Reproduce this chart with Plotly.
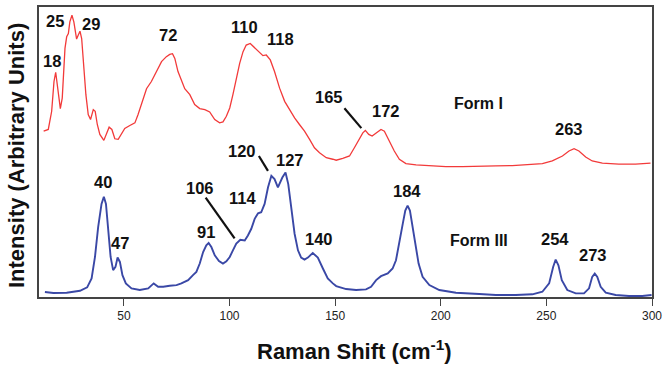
import plotly.graph_objects as go

# ---- Form I (red) spectrum: Raman shift (cm-1) and intensity (arbitrary units)
form1_shift = [12.0, 14.2, 15.8, 16.9, 17.7, 18.9, 19.9, 20.8, 22.1, 22.9, 23.7, 24.4, 25.4, 26.3,
               27.6, 28.4, 29.2, 30.0, 31.1, 32.0, 33.1, 34.2, 35.5, 36.4, 37.4, 38.6, 40.5, 41.8,
               43.0, 44.3, 45.7, 47.3, 48.9, 50.4, 52.8, 55.2, 56.7, 59.1, 60.7, 63.0, 65.4, 67.8,
               70.1, 71.7, 73.0, 74.1, 75.6, 77.2, 78.8, 81.2, 83.5, 85.9, 88.3, 90.6, 93.0, 95.3,
               96.9, 98.5, 100.1, 101.6, 103.2, 104.8, 106.4, 107.9, 109.8, 111.4, 113.5, 115.8,
               117.4, 119.3, 121.3, 123.7, 126.1, 128.4, 130.8, 133.1, 135.5, 137.9, 140.2, 142.6,
               145.8, 148.9, 150.5, 153.6, 156.8, 159.1, 161.5, 163.1, 164.3, 165.9, 167.5, 169.4,
               171.7, 173.3, 175.7, 178.0, 180.4, 183.5, 188.3, 194.6, 202.4, 210.3, 218.2, 226.1,
               233.9, 241.8, 248.1, 252.8, 257.6, 260.7, 263.1, 265.4, 268.6, 271.7, 276.5, 284.3,
               292.2, 299.3]
form1_int = [167, 168.7, 187, 217, 226.3, 207, 189.7, 200.3, 250.3, 262, 265.3, 277, 283.7, 277,
             259.7, 263.7, 267.7, 260.3, 230.3, 203.7, 183.7, 178.7, 188.7, 187, 173.7, 163.7, 157.7,
             165.3, 171, 168.7, 159.3, 158.7, 163.7, 169.7, 172.7, 175.3, 183.7, 200.3, 209.7, 217,
             227, 237, 242, 244.3, 245, 240.3, 227, 218.7, 209.7, 203.7, 193.7, 189.7, 188.7, 186.3,
             178.7, 175.3, 176.3, 182, 190.3, 203.7, 220.3, 235.3, 247, 253.7, 255.3, 252, 247, 243,
             243.7, 238.7, 227, 210.3, 197, 188.7, 180.3, 173.7, 167, 158.7, 150.3, 145.3, 140.3,
             138.7, 137.7, 139.7, 142, 150.3, 158.7, 165.3, 167.7, 163.7, 162, 165.3, 168.7, 167,
             157, 147, 138.7, 134.3, 133, 132, 131.3, 131.3, 131.3, 132, 132.3, 133, 134.3, 137,
             142, 147, 149.3, 147, 141, 137, 134.7, 133.7, 133.7, 134.7]

# ---- Form III (blue) spectrum
form3_shift = [12.6, 16.6, 22.9, 29.2, 32.6, 34.7, 36.3, 37.8, 39.4, 40.5, 41.5, 42.6, 43.7, 44.9,
               46.0, 47.0, 48.1, 49.3, 50.9, 53.6, 57.5, 61.5, 64.1, 66.2, 68.6, 71.7, 74.9, 77.2,
               80.4, 82.7, 84.3, 85.9, 87.5, 89.0, 90.1, 91.4, 93.0, 95.0, 96.9, 98.5, 100.1, 101.6,
               103.2, 105.1, 107.2, 108.7, 110.3, 111.9, 113.5, 115.0, 116.6, 118.2, 119.8, 121.3,
               122.9, 125.0, 126.5, 127.8, 129.2, 130.8, 132.4, 133.9, 135.5, 137.1, 139.4, 141.8,
               144.2, 146.5, 148.9, 150.5, 155.2, 159.9, 164.6, 167.0, 169.4, 171.7, 174.9, 177.2,
               178.8, 180.4, 182.0, 183.2, 184.3, 185.4, 186.7, 187.9, 189.5, 191.4, 194.6, 199.3,
               207.2, 218.2, 226.1, 235.5, 243.4, 248.1, 251.3, 253.2, 254.4, 255.7, 257.3, 259.9,
               263.9, 267.8, 270.2, 271.7, 272.9, 274.1, 275.7, 278.1, 282.8, 289.1, 295.4, 299.8]
form3_int = [5, 4, 4.3, 6.3, 9.7, 18.7, 40.3, 70.3, 93.7, 101, 93.7, 67, 40.3, 27, 30.3, 39.7, 35.3,
             22, 13.7, 8.7, 7, 8.7, 13.7, 10.3, 10.3, 11.3, 12, 13.7, 17, 22, 25.3, 33.7, 45.3, 52,
             54.3, 50.3, 42, 36.3, 33.7, 36, 40.3, 47, 53.7, 57.7, 57, 62, 68.7, 78.7, 84.3, 85.3,
             93.7, 110.3, 122, 118.7, 110.3, 120.3, 125.3, 113.7, 90.3, 63.7, 47, 39.7, 37.7, 39.7,
             44.3, 39.7, 28.7, 18.7, 13.7, 11, 8, 7, 7.7, 10.3, 17, 21, 23.7, 28.7, 37, 53.7, 73.7,
             87, 92, 87, 70.3, 50.3, 33.7, 20.3, 12, 7, 4.3, 3, 2, 2, 2.7, 5.3, 13.7, 30.3, 37.7,
             32, 17, 7, 3.7, 3.7, 8.7, 20.3, 23.7, 20.3, 10.3, 4.3, 2, 1, 1, 2]

# ---- Peak labels (text, shift, intensity where text is placed)
label_text = ["18", "25", "29", "72", "110", "118", "165", "172", "Form I", "263",
              "120", "127", "40", "47", "91", "106", "114", "140", "184", "Form III", "254", "273"]
label_x = [15.9, 17.4, 34.4, 70.8, 107.2, 124.2, 146.9, 174.1, 218.0, 260.7,
           105.7, 128.8, 40.0, 48.1, 88.7, 85.9, 106.0, 142.5, 184.1, 218.1, 254.1, 272.3]
label_y = [238, 278, 275, 264, 272, 260, 201, 187, 195, 169,
           147, 138, 116, 54, 65, 110, 100, 58, 107, 57, 58, 42]

# ---- Leader lines (x0, y0, x1, y1) in data units
leader_x0 = [154.4, 113.9, 88.7]
leader_y0 = [190, 142, 100]
leader_x1 = [162.4, 118.2, 102.4]
leader_y1 = [170, 127, 59]

x_ticks = [50, 100, 150, 200, 250, 300]

FONT = "Arial, Liberation Sans, Helvetica, sans-serif"

fig = go.Figure()
fig.add_trace(go.Scatter(x=form1_shift, y=form1_int, mode="lines",
                         line=dict(color="#f23a3a", width=1.3), showlegend=False))
fig.add_trace(go.Scatter(x=form3_shift, y=form3_int, mode="lines",
                         line=dict(color="#3a48a6", width=1.9), showlegend=False))

for t, x, y in zip(label_text, label_x, label_y):
    fig.add_annotation(x=x, y=y, xref="x", yref="y", text="<b>%s</b>" % t, showarrow=False,
                       font=dict(family=FONT, size=16.5 if not t.startswith("Form") else 16,
                                 color="#111111"),
                       xanchor="center", yanchor="middle")

for x0, y0, x1, y1 in zip(leader_x0, leader_y0, leader_x1, leader_y1):
    fig.add_shape(type="line", xref="x", yref="y", x0=x0, y0=y0, x1=x1, y1=y1,
                  line=dict(color="#111111", width=2.2))

# axis titles
fig.add_annotation(xref="paper", yref="paper", x=(355 - 39) / 614, y=-(350 - 297) / 292,
                   text="<b>Raman Shift (cm<sup>-1</sup>)</b>", showarrow=False,
                   font=dict(family=FONT, size=22, color="#111111"),
                   xanchor="center", yanchor="middle")
fig.add_annotation(xref="paper", yref="paper", x=-(39 - 17) / 614, y=(297 - 155) / 292,
                   text="<b>Intensity (Arbitrary Units)</b>", showarrow=False, textangle=-90,
                   font=dict(family=FONT, size=22, color="#111111"),
                   xanchor="center", yanchor="middle")

fig.update_layout(
    width=667, height=365,
    margin=dict(l=39, r=14, t=5, b=68),
    paper_bgcolor="white", plot_bgcolor="white",
    xaxis=dict(range=[9.8, 300], tickvals=x_ticks, ticks="outside", ticklen=7, tickwidth=1.2,
               tickcolor="#444444", showgrid=False, zeroline=False, showline=True, mirror=True,
               linecolor="#444444", linewidth=1.6,
               tickfont=dict(family=FONT, size=12, color="#222222"),
               tickprefix="<b>", ticksuffix="</b>"),
    yaxis=dict(range=[0, 292], showticklabels=False, ticks="", showgrid=False, zeroline=False,
               showline=True, mirror=True, linecolor="#444444", linewidth=1.6),
)

fig.write_html("out.html", config={"displayModeBar": False},
               post_script="document.body.style.margin='0';document.body.style.overflow='hidden';")
